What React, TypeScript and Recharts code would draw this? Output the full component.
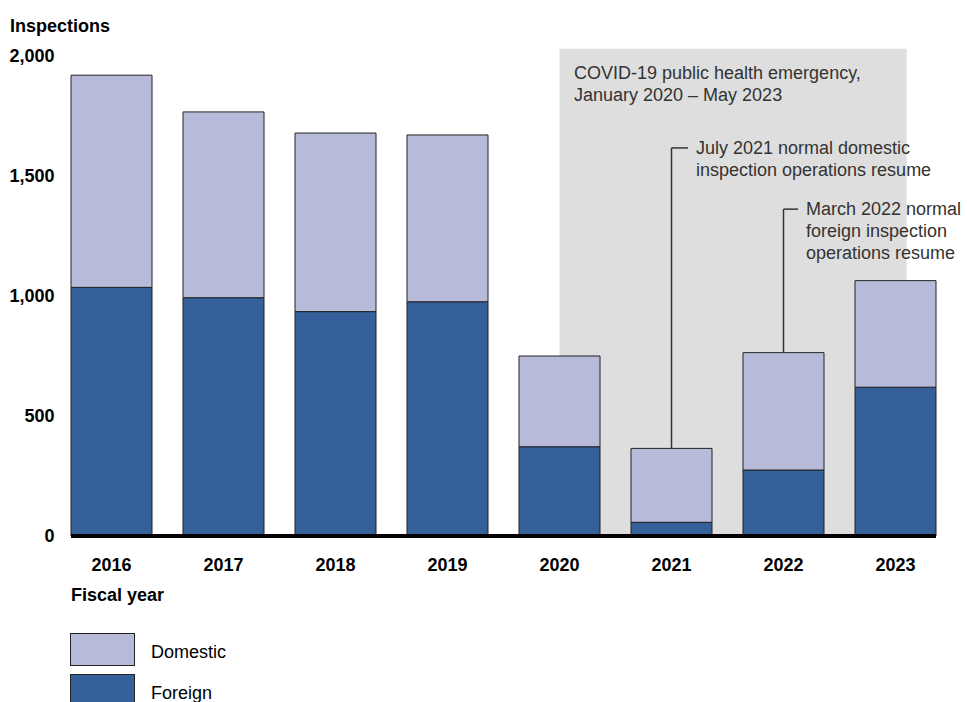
import React from 'react'
import {
  ComposedChart,
  Bar,
  XAxis,
  YAxis,
  ReferenceArea,
  ReferenceLine,
} from 'recharts'

const years = ['2016', '2017', '2018', '2019', '2020', '2021', '2022', '2023']
const foreign = [1036, 993, 935, 976, 372, 57, 275, 620]
const domestic = [884, 774, 744, 695, 378, 308, 489, 444]
const yTicks = [0, 500, 1000, 1500, 2000]

const series = [
  { key: 'Domestic', color: '#b7bbd9' },
  { key: 'Foreign', color: '#36609c' },
]

const font = '"Liberation Sans", Arial, sans-serif'

const data = years.map((year, i) => ({
  year,
  Foreign: foreign[i],
  Domestic: domestic[i],
}))

const total = (i: number) => foreign[i] + domestic[i]

// hidden numeric axis spans index 0..n-1 across the plot; convert band units (0..n) to it
const n = years.length
const pos = (band: number) => (band * (n - 1)) / n

export default function App() {
  const tick = { fill: '#000', fontSize: 18, fontWeight: 700, fontFamily: font }
  const noteStyle: React.CSSProperties = {
    position: 'absolute',
    fontSize: 18,
    lineHeight: '22px',
    color: '#333',
    fontFamily: font,
    whiteSpace: 'nowrap',
  }
  const leader = { xAxisId: 'pos', stroke: '#333', strokeWidth: 1.5 }
  return (
    <div style={{ position: 'absolute', left: 0, top: 0, width: 967, height: 702, background: '#fff', fontFamily: font }}>
      <ComposedChart
        width={967}
        height={702}
        data={data}
        margin={{ top: 48.8, right: 15.5, bottom: 136, left: 0 }}
        barCategoryGap={15.5}
      >
        <XAxis xAxisId="pos" type="number" domain={[0, n - 1]} allowDataOverflow hide />
        <XAxis
          dataKey="year"
          height={30}
          axisLine={false}
          tickLine={false}
          tickSize={0}
          tickMargin={22}
          tick={tick}
          interval={0}
        />
        <YAxis
          width={55.5}
          domain={[0, 2030]}
          ticks={yTicks}
          axisLine={false}
          tickLine={false}
          tickSize={0}
          tickMargin={1}
          tick={tick}
          tickFormatter={(v: number) => v.toLocaleString('en-US')}
          allowDataOverflow
        />
        {/* COVID-19 period shading */}
        <ReferenceArea
          xAxisId="pos"
          x1={pos(4.5)}
          x2={pos(7.6)}
          y1={0}
          y2={2030}
          fill="#dedede"
          fillOpacity={1}
          stroke="none"
          ifOverflow="visible"
        />
        <Bar dataKey="Foreign" stackId="a" fill="#36609c" stroke="#222" strokeWidth={1} isAnimationActive={false} />
        <Bar dataKey="Domestic" stackId="a" fill="#b7bbd9" stroke="#222" strokeWidth={1} isAnimationActive={false} />
        {/* leader lines */}
        <ReferenceLine {...leader} segment={[{ x: pos(5.5), y: total(5) }, { x: pos(5.5), y: 1617 }]} />
        <ReferenceLine {...leader} segment={[{ x: pos(5.5), y: 1617 }, { x: pos(5.647), y: 1617 }]} />
        <ReferenceLine {...leader} segment={[{ x: pos(6.5), y: total(6) }, { x: pos(6.5), y: 1362 }]} />
        <ReferenceLine {...leader} segment={[{ x: pos(6.5), y: 1362 }, { x: pos(6.63), y: 1362 }]} />
        {/* baseline */}
        <ReferenceLine
          xAxisId="pos"
          segment={[{ x: pos(0.1384), y: 0 }, { x: pos(7.8616), y: 0 }]}
          stroke="#000"
          strokeWidth={4}
          ifOverflow="visible"
        />
      </ComposedChart>

      <div style={{ position: 'absolute', left: 10, top: 15, fontSize: 18, fontWeight: 700, lineHeight: '22px' }}>Inspections</div>
      <div style={{ position: 'absolute', left: 71, top: 584, fontSize: 18, fontWeight: 700, lineHeight: '22px' }}>Fiscal year</div>

      <div style={{ ...noteStyle, left: 574, top: 62 }}>
        COVID-19 public health emergency,
        <br />
        January 2020 – May 2023
      </div>
      <div style={{ ...noteStyle, left: 696, top: 137 }}>
        July 2021 normal domestic
        <br />
        inspection operations resume
      </div>
      <div style={{ ...noteStyle, left: 806, top: 198 }}>
        March 2022 normal
        <br />
        foreign inspection
        <br />
        operations resume
      </div>

      {series.map((s, i) => (
        <div key={s.key} style={{ position: 'absolute', left: 70, top: 633 + i * 41, display: 'flex', alignItems: 'center' }}>
          <div style={{ width: 63, height: 31, background: s.color, border: '1px solid #222' }} />
          <span style={{ marginLeft: 16, marginTop: 6, fontSize: 18, color: '#000' }}>{s.key}</span>
        </div>
      ))}
    </div>
  )
}
